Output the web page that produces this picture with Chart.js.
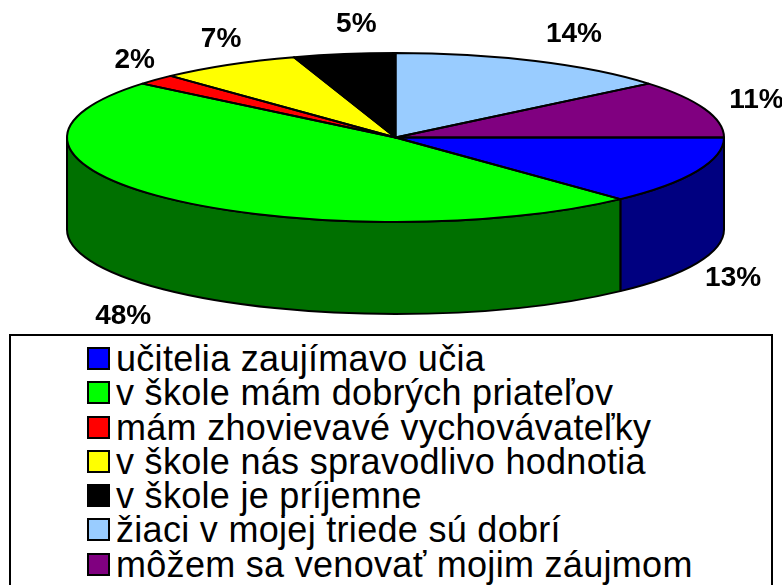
<!DOCTYPE html>
<html lang="sk">
<head>
  <meta charset="UTF-8" />
  <title>Prečo chodím rád do školy</title>
  <script src="https://cdn.jsdelivr.net/npm/chart.js"></script>
  <style>
    body {
      margin: 0;
      background: #fff;
      font-family: Arial, "Liberation Sans", sans-serif;
    }
    .wrap {
      position: relative;
      width: 782px;
      height: 585px;
      overflow: hidden;
    }
    #pie {
      position: absolute;
      left: 0;
      top: 0;
    }
    #legend {
      position: absolute;
      left: 9px;
      top: 334px;
      width: 764px;
      height: 280px;
      box-sizing: border-box;
      border: 2px solid #000;
      padding: 6px 0 0 76px;
      background: #fff;
    }
    #legend ul {
      list-style: none;
      margin: 0;
      padding: 0;
    }
    #legend li {
      display: flex;
      align-items: flex-start;
      height: 34.3px;
      font-size: 36px;
      letter-spacing: 0.3px;
      line-height: 34.3px;
      white-space: nowrap;
    }
    #legend .box {
      flex: none;
      width: 23px;
      height: 23px;
      box-sizing: border-box;
      border: 2px solid #000;
      margin: 5px 6px 0 0;
    }
  </style>
</head>
<body>
  <div class="wrap">
    <canvas id="pie" width="782" height="585"></canvas>
    <div id="legend"></div>
  </div>

  <script>
    // hodnoty odčítané z grafu (v %)
    const categories = [
      'učitelia zaujímavo učia',
      'v škole mám dobrých priateľov',
      'mám zhovievavé vychovávateľky',
      'v škole nás spravodlivo hodnotia',
      'v škole je príjemne',
      'žiaci v mojej triede sú dobrí',
      'môžem sa venovať mojim záujmom'
    ];
    const values = [13, 48, 2, 7, 5, 14, 11];

    const topColors = ['#0000ff', '#00ff00', '#ff0000', '#ffff00', '#000000', '#99ccff', '#800080'];
    const sideColors = ['#000080', '#007000', '#800000', '#808000', '#000000', '#4c6680', '#400040'];

    // 3D efekt: zploštený koláč + bočná stena + popisky
    const pie3d = {
      id: 'pie3d',
      geom(chart) {
        const area = chart.chartArea;
        const arcs = chart.getDatasetMeta(0).data;
        const r = arcs[0].outerRadius;
        return {
          arcs,
          cx: arcs[0].x,
          cy: arcs[0].y,
          sx: area.width / 2 / r,
          sy: area.height / 2 / r,
          rx: area.width / 2,
          ry: area.height / 2
        };
      },
      beforeDatasetsDraw(chart, args, opts) {
        const ctx = chart.ctx;
        const g = this.geom(chart);
        const D = opts.depth;
        const TWO_PI = Math.PI * 2;

        g.arcs.forEach((arc, i) => {
          const s = ((arc.startAngle % TWO_PI) + TWO_PI) % TWO_PI;
          const e = s + (arc.endAngle - arc.startAngle);
          [0, TWO_PI].forEach(base => {
            const a = Math.max(s, base);
            const b = Math.min(e, base + Math.PI);
            if (b <= a) return;
            ctx.save();
            ctx.beginPath();
            ctx.ellipse(g.cx, g.cy, g.rx, g.ry, 0, a, b, false);
            ctx.ellipse(g.cx, g.cy + D, g.rx, g.ry, 0, b, a, true);
            ctx.closePath();
            ctx.fillStyle = opts.sideColors[i];
            ctx.fill();
            ctx.lineWidth = opts.lineWidth;
            ctx.lineJoin = 'round';
            ctx.strokeStyle = '#000';
            ctx.stroke();
            ctx.restore();
          });
        });

        // horná plocha - kreslí ju Chart.js, len ju zploštíme
        ctx.save();
        ctx.translate(g.cx, g.cy);
        ctx.scale(g.sx, g.sy);
        ctx.translate(-g.cx, -g.cy);
      },
      afterDatasetsDraw(chart, args, opts) {
        const ctx = chart.ctx;
        ctx.restore();
        const g = this.geom(chart);
        const D = opts.depth;

        ctx.save();
        ctx.lineWidth = opts.lineWidth;
        ctx.lineJoin = 'round';
        ctx.strokeStyle = '#000';
        g.arcs.forEach(arc => {
          ctx.beginPath();
          ctx.moveTo(g.cx, g.cy);
          ctx.ellipse(g.cx, g.cy, g.rx, g.ry, 0, arc.startAngle, arc.endAngle, false);
          ctx.closePath();
          ctx.stroke();
        });

        // percentá
        const data = chart.data.datasets[0].data;
        const total = data.reduce((a, b) => a + b, 0);
        ctx.fillStyle = '#000';
        ctx.font = 'bold 28px Arial, "Liberation Sans", sans-serif';
        ctx.textAlign = 'center';
        ctx.textBaseline = 'alphabetic';
        g.arcs.forEach((arc, i) => {
          const m = (arc.startAngle + arc.endAngle) / 2;
          const c = Math.cos(m), s = Math.sin(m);
          const x = g.cx + (g.rx + 48) * c - 20 * s;
          const y = g.cy + (g.ry + 32) * s + (s > 0 ? D : 0);
          ctx.fillText(Math.round(data[i] / total * 100) + '%', x, y + 10);
        });
        ctx.restore();
      }
    };

    // legenda ako HTML zoznam
    const htmlLegend = {
      id: 'htmlLegend',
      afterUpdate(chart) {
        const box = document.getElementById('legend');
        const items = chart.options.plugins.legend.labels.generateLabels(chart);
        const ul = document.createElement('ul');
        items.forEach(item => {
          const li = document.createElement('li');
          const sq = document.createElement('span');
          sq.className = 'box';
          sq.style.background = item.fillStyle;
          const txt = document.createElement('span');
          txt.textContent = item.text;
          li.appendChild(sq);
          li.appendChild(txt);
          ul.appendChild(li);
        });
        box.innerHTML = '';
        box.appendChild(ul);
      }
    };

    new Chart(document.getElementById('pie').getContext('2d'), {
      type: 'pie',
      data: {
        labels: categories,
        datasets: [{
          data: values,
          backgroundColor: topColors,
          borderWidth: 0,
          hoverOffset: 0
        }]
      },
      options: {
        responsive: false,
        animation: false,
        events: [],
        rotation: 90,
        layout: { padding: { left: 67, right: 58, top: 53, bottom: 363 } },
        plugins: {
          legend: { display: false },
          tooltip: { enabled: false },
          pie3d: { depth: 92, lineWidth: 2, sideColors: sideColors }
        }
      },
      plugins: [pie3d, htmlLegend]
    });
  </script>
</body>
</html>
